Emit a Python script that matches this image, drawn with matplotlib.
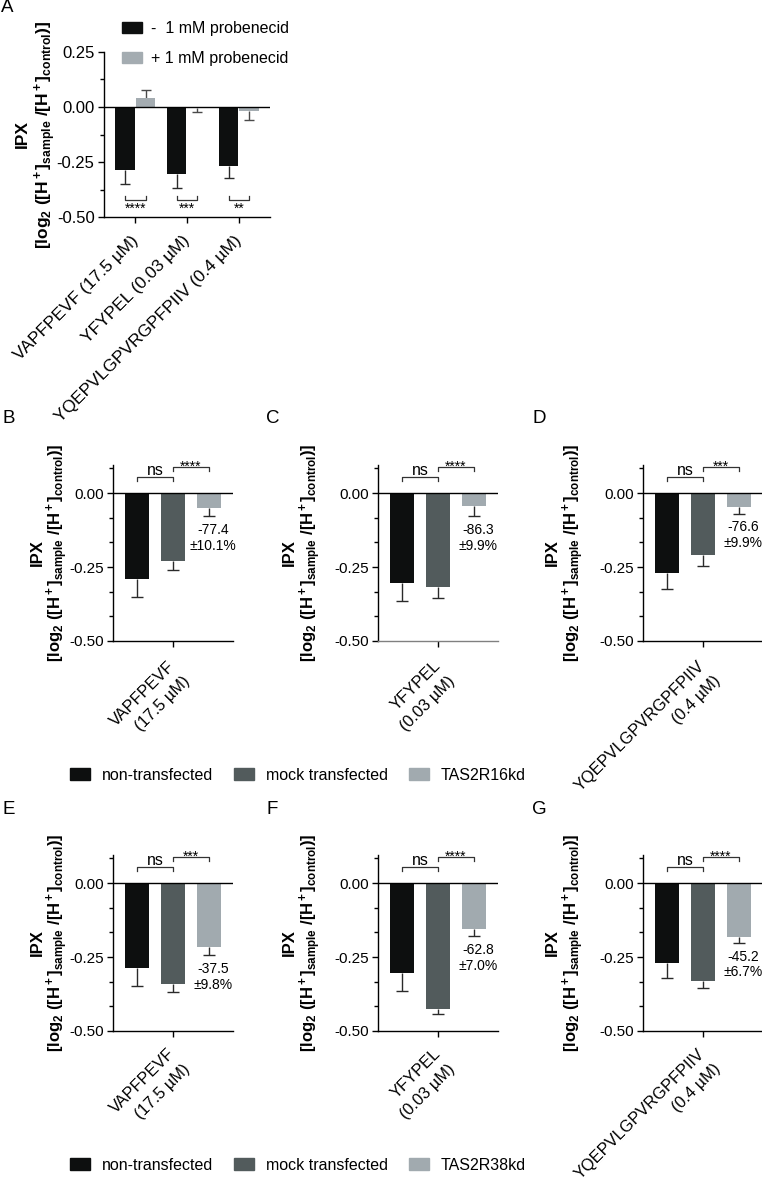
import matplotlib
matplotlib.use("Agg")
import matplotlib.pyplot as plt
from matplotlib.patches import Patch
from matplotlib.ticker import MultipleLocator, FormatStrFormatter
import numpy as np

plt.rcParams['font.family'] = ['Liberation Sans', 'DejaVu Sans']
plt.rcParams['mathtext.fontset'] = 'custom'
plt.rcParams['mathtext.rm'] = 'Liberation Sans'
plt.rcParams['mathtext.bf'] = 'Liberation Sans:bold'
plt.rcParams['mathtext.it'] = 'Liberation Sans:italic'
plt.rcParams['axes.unicode_minus'] = False

# ---------------- data ----------------
peptides_A = ["VAPFPEVF (17.5 µM)", "YFYPEL (0.03 µM)", "YQEPVLGPVRGPFPIIV (0.4 µM)"]
legend_A = ["-  1 mM probenecid", "+ 1 mM probenecid"]
minus_prob = [-0.288, -0.303, -0.269]
minus_prob_err = [0.060, 0.065, 0.052]
plus_prob = [0.041, -0.003, -0.019]
plus_prob_err = [0.035, 0.020, 0.039]
sig_A = ["****", "***", "**"]

peptides = ["VAPFPEVF\n(17.5 µM)", "YFYPEL\n(0.03 µM)", "YQEPVLGPVRGPFPIIV\n(0.4 µM)"]
groups_T16 = ["non-transfected", "mock transfected", "TAS2R16kd"]
groups_T38 = ["non-transfected", "mock transfected", "TAS2R38kd"]

non_T16 = [-0.291, -0.304, -0.271]
non_T16_err = [0.060, 0.061, 0.054]
mock_T16 = [-0.230, -0.318, -0.209]
mock_T16_err = [0.030, 0.037, 0.036]
kd_T16 = [-0.051, -0.044, -0.046]
kd_T16_err = [0.027, 0.034, 0.023]
red_T16 = ["-77.4\n±10.1%", "-86.3\n±9.9%", "-76.6\n±9.9%"]
sig_T16 = ["****", "****", "***"]

non_T38 = [-0.288, -0.303, -0.271]
non_T38_err = [0.059, 0.061, 0.049]
mock_T38 = [-0.342, -0.425, -0.330]
mock_T38_err = [0.025, 0.018, 0.026]
kd_T38 = [-0.215, -0.156, -0.181]
kd_T38_err = [0.028, 0.023, 0.021]
red_T38 = ["-37.5\n±9.8%", "-62.8\n±7.0%", "-45.2\n±6.7%"]
sig_T38 = ["***", "****", "****"]

# ---------------- style ----------------
C_BLACK = '#0d0f0f'
C_MOCK = '#525b5c'
C_KD = '#a1aaaf'
C_PLUS = '#a4acb1'
C_ERR = '#2a2a2a'

W, H = 762, 1183
fig = plt.figure(figsize=(W / 100, H / 100), dpi=100)


def add_ax(l, t, r, b):
    return fig.add_axes([l / W, 1 - b / H, (r - l) / W, (b - t) / H])


def style(ax, minor, tick_fs):
    for s in ['top', 'right']:
        ax.spines[s].set_visible(False)
    for s in ['left', 'bottom']:
        ax.spines[s].set_linewidth(1.0)
    ax.yaxis.set_major_locator(MultipleLocator(0.25))
    ax.yaxis.set_minor_locator(MultipleLocator(minor))
    ax.yaxis.set_major_formatter(FormatStrFormatter('%.2f'))
    ax.tick_params(axis='y', which='major', length=4.3, width=1, labelsize=tick_fs, pad=2.5)
    ax.tick_params(axis='y', which='minor', length=2.6, width=1)
    ax.tick_params(axis='x', which='major', length=4.3, width=1)
    ax.axhline(0, color='black', lw=1.0, zorder=3)


def draw_err(ax, xs, vals, errs, color, capw):
    tips = [v - e if v < 0 else v + e for v, e in zip(vals, errs)]
    ax.vlines(xs, vals, tips, color=color, lw=1.0, zorder=1)
    ax.plot(xs, tips, linestyle='none', marker='_', markersize=capw,
            markeredgewidth=1.0, color=color, zorder=1)


def ylabels(ax, x_ipx, x_l2, fs):
    bb = ax.get_position()
    yc = bb.y0 + bb.height / 2
    fig.text(x_ipx / W, yc, 'IPX', rotation=90, ha='center', va='center',
             fontweight='bold', fontsize=fs)
    fig.text(x_l2 / W, yc,
             r'$\mathbf{[log_2\ ([H^+]_{sample}\ /[H^+]_{control})]}$',
             rotation=90, ha='center', va='center', fontsize=fs)


def xlabel_rot(ax, x, text, dx, dy, fs, pitch):
    # each line drawn separately, right-aligned, rotated 45 degrees
    for k, line in enumerate(text.split('\n')):
        off = k * pitch / np.sqrt(2)
        ax.annotate(line, xy=(x, 0), xycoords=('data', 'axes fraction'),
                    xytext=(dx + off, dy - off), textcoords='offset points',
                    rotation=45, rotation_mode='anchor', ha='right', va='top',
                    fontsize=fs)


# ---------------- panel A ----------------
axA = add_ax(104, 52, 270, 217)
style(axA, 0.125, 12)
xA = np.arange(len(peptides_A))
axA.bar(xA - 0.2, minus_prob, 0.38, color=C_BLACK, zorder=2)
axA.bar(xA + 0.2, plus_prob, 0.38, color=C_PLUS, zorder=2)
draw_err(axA, xA - 0.2, minus_prob, minus_prob_err, C_ERR, 7)
draw_err(axA, xA + 0.2, plus_prob, plus_prob_err, '#4a4a4a', 7)
axA.set_xlim(-0.6, 2.6)
axA.set_ylim(-0.5, 0.25)
axA.set_xticks(xA)
axA.set_xticklabels([])
for xi, lab in zip(xA, peptides_A):
    xlabel_rot(axA, xi, lab, -3.5, -11.5, 12.5, 15)
for xi, s in zip(xA, sig_A):
    ybr, yleg = -0.423, -0.405
    axA.plot([xi - 0.2, xi - 0.2, xi + 0.2, xi + 0.2], [yleg, ybr, ybr, yleg],
             color='#333333', lw=0.9, clip_on=False, zorder=4)
    axA.annotate(s, xy=(xi, ybr), xytext=(0, -9.5), textcoords='offset points',
                 ha='center', va='baseline', fontsize=10)
axA.legend([Patch(color=C_BLACK), Patch(color=C_PLUS)], legend_A, loc='upper left',
           bbox_to_anchor=(122 / W, 1 - 21 / H), bbox_transform=fig.transFigure,
           frameon=False, fontsize=11.5, handlelength=1.25, handleheight=0.72,
           handletextpad=0.55, labelspacing=0.95, borderpad=0, borderaxespad=0)
ylabels(axA, 22, 45, 12.5)
fig.text(1 / W, 1 - 8 / H, 'A', fontsize=13.5, ha='left', va='center')


# ---------------- panels B-G ----------------
def panel(l, t, b, vals, errs, red, sig, pep, ipx_x, l2_x, lab_dy, bottom_color='black'):
    ax = add_ax(l, t, l + 120, b)
    style(ax, 0.25 / 3, 11)
    ax.spines['bottom'].set_color(bottom_color)
    xs = np.array([-0.3, 0.0, 0.3])
    cols = [C_BLACK, C_MOCK, C_KD]
    ax.bar(xs, vals, 0.2, color=cols, zorder=2)
    draw_err(ax, xs, vals, errs, C_ERR, 8)
    ax.set_xlim(-0.5, 0.5)
    ax.set_ylim(-0.5, 0.095)
    ax.set_xticks([0])
    ax.set_xticklabels([])
    xlabel_rot(ax, 0, pep, -4, lab_dy, 11.8, 15.3)
    # ns bracket
    y1, l1 = 0.054, 0.040
    ax.plot([-0.3, -0.3, 0, 0], [l1, y1, y1, l1], color='#333333', lw=0.9, clip_on=False, zorder=4)
    ax.annotate('ns', xy=(-0.15, y1), xytext=(0, 1.5), textcoords='offset points',
                ha='center', va='baseline', fontsize=11.5)
    y2, l2 = 0.088, 0.074
    ax.plot([0, 0, 0.3, 0.3], [l2, y2, y2, l2], color='#333333', lw=0.9, clip_on=False, zorder=4)
    ax.annotate(sig, xy=(0.15, y2), xytext=(0, -2.5), textcoords='offset points',
                ha='center', va='baseline', fontsize=10, annotation_clip=False)
    # reduction annotation
    ax.annotate(red, xy=(0.3, vals[2] - errs[2]), xytext=(3, -5), textcoords='offset points',
                ha='center', va='top', fontsize=10, linespacing=1.15)
    ylabels(ax, ipx_x, l2_x, 12)
    return ax


lefts = [113, 378, 643]
ipx_xs = [37, 289, 552]
l2_xs = [57, 310, 573]
letters_top = ['B', 'C', 'D']
letters_bot = ['E', 'F', 'G']
letter_x = [3, 266, 532]
bcols = ['black', '#808080', 'black']

for i in range(3):
    panel(lefts[i], 465, 641, [non_T16[i], mock_T16[i], kd_T16[i]],
          [non_T16_err[i], mock_T16_err[i], kd_T16_err[i]], red_T16[i], sig_T16[i],
          peptides[i], ipx_xs[i], l2_xs[i], -12.5, bcols[i])
    fig.text(letter_x[i] / W, 1 - 418 / H, letters_top[i], fontsize=13.5, ha='left', va='center')
    panel(lefts[i], 855, 1031, [non_T38[i], mock_T38[i], kd_T38[i]],
          [non_T38_err[i], mock_T38_err[i], kd_T38_err[i]], red_T38[i], sig_T38[i],
          peptides[i], ipx_xs[i], l2_xs[i], -11)
    fig.text(letter_x[i] / W, 1 - 810 / H, letters_bot[i], fontsize=13.5, ha='left', va='center')

for names, yrow in [(groups_T16, 775), (groups_T38, 1165)]:
    fig.legend([Patch(color=C_BLACK), Patch(color=C_MOCK), Patch(color=C_KD)], names,
               loc='center left', bbox_to_anchor=(70 / W, 1 - yrow / H), ncol=3,
               frameon=False, fontsize=11.5, handlelength=1.25, handleheight=0.8,
               handletextpad=0.75, columnspacing=1.3, borderpad=0, borderaxespad=0)

fig.savefig('out.png', dpi=100)
